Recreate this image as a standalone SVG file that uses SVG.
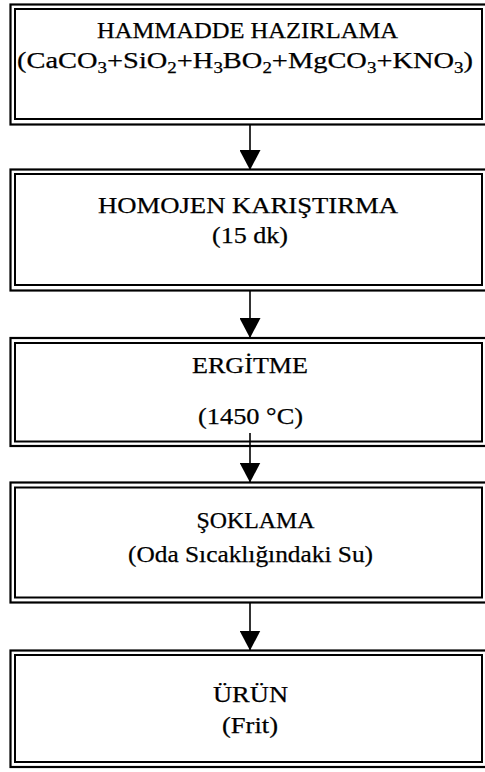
<svg xmlns="http://www.w3.org/2000/svg" width="485" height="772" viewBox="0 0 485 772">
  <style>
    .outer { fill: none; stroke: #000; stroke-width: 2.2; }
    .inner { fill: none; stroke: #000; stroke-width: 2; }
    .lbl { font-family: "Liberation Serif", "Times New Roman", serif; font-size: 24px; fill: #000; stroke: #000; stroke-width: 0.25; text-anchor: middle; }
    .sub { font-size: 16px; }
    .flow { stroke: #000; stroke-width: 1.6; fill: none; marker-end: url(#head); }
  </style>
  <defs>
    <marker id="head" viewBox="0 0 20 21" refX="20" refY="10.5" markerWidth="20" markerHeight="21" markerUnits="userSpaceOnUse" orient="auto">
      <path d="M0,0 L20,10.5 L0,21 z" fill="#000"/>
    </marker>
  </defs>
  <rect width="485" height="772" fill="#fff"/>

  <!-- process steps: double-ruled boxes -->
  <g id="hammadde">
    <rect class="outer" x="10.5" y="4.5" width="478" height="120"/>
    <rect class="inner" x="15" y="9" width="467" height="110"/>
    <text class="lbl" x="247.5" y="38" textLength="301" lengthAdjust="spacingAndGlyphs">HAMMADDE HAZIRLAMA</text>
    <text class="lbl" x="245" y="68" textLength="456" lengthAdjust="spacingAndGlyphs">(CaCO<tspan class="sub" dy="5">3</tspan><tspan dy="-5">+SiO</tspan><tspan class="sub" dy="5">2</tspan><tspan dy="-5">+H</tspan><tspan class="sub" dy="5">3</tspan><tspan dy="-5">BO</tspan><tspan class="sub" dy="5">2</tspan><tspan dy="-5">+MgCO</tspan><tspan class="sub" dy="5">3</tspan><tspan dy="-5">+KNO</tspan><tspan class="sub" dy="5">3</tspan><tspan dy="-5">)</tspan></text>
  </g>

  <g id="karistirma">
    <rect class="outer" x="10.5" y="169.5" width="478" height="121"/>
    <rect class="inner" x="15" y="174" width="467" height="111"/>
    <text class="lbl" x="248" y="213" textLength="300" lengthAdjust="spacingAndGlyphs">HOMOJEN KARIŞTIRMA</text>
    <text class="lbl" x="250" y="243" textLength="76" lengthAdjust="spacingAndGlyphs">(15 dk)</text>
  </g>

  <g id="ergitme">
    <rect class="outer" x="10.5" y="338" width="478" height="108"/>
    <rect class="inner" x="15" y="343" width="467" height="98.5"/>
    <text class="lbl" x="250" y="373" textLength="116" lengthAdjust="spacingAndGlyphs">ERGİTME</text>
    <text class="lbl" x="250.5" y="424" textLength="105" lengthAdjust="spacingAndGlyphs">(1450 °C)</text>
  </g>

  <g id="soklama">
    <rect class="outer" x="10.5" y="482.5" width="478" height="120"/>
    <rect class="inner" x="15" y="487.5" width="467" height="110"/>
    <text class="lbl" x="255.5" y="528" textLength="118" lengthAdjust="spacingAndGlyphs">ŞOKLAMA</text>
    <text class="lbl" x="250.5" y="562" textLength="245" lengthAdjust="spacingAndGlyphs">(Oda Sıcaklığındaki Su)</text>
  </g>

  <g id="urun">
    <rect class="outer" x="10.5" y="650.5" width="478" height="116.5"/>
    <rect class="inner" x="15" y="655" width="467" height="107"/>
    <text class="lbl" x="250.5" y="702" textLength="75" lengthAdjust="spacingAndGlyphs">ÜRÜN</text>
    <text class="lbl" x="250" y="733" textLength="56" lengthAdjust="spacingAndGlyphs">(Frit)</text>
  </g>

  <!-- connectors -->
  <g id="connectors">
    <line class="flow" x1="250" y1="124.5" x2="250" y2="170"/>
    <line class="flow" x1="250" y1="290.5" x2="250" y2="338"/>
    <line class="flow" x1="250" y1="433" x2="250" y2="482.5"/>
    <line class="flow" x1="250" y1="602.5" x2="250" y2="650.5"/>
  </g>
</svg>
